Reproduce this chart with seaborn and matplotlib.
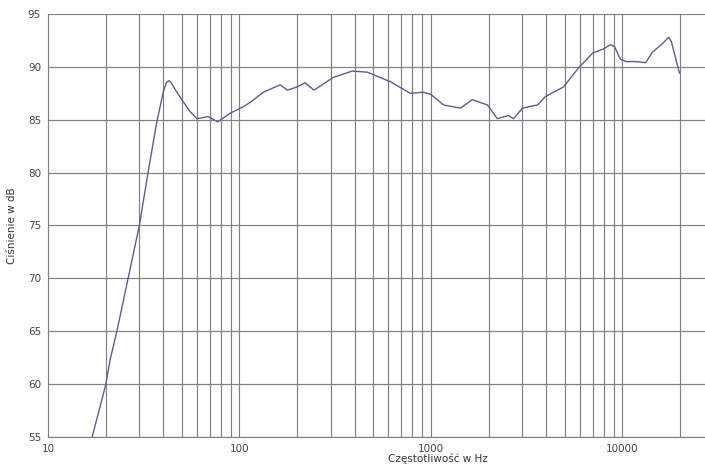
import numpy as np
import pandas as pd
import matplotlib
matplotlib.use("Agg")
import matplotlib.pyplot as plt
from matplotlib.ticker import FixedLocator, NullFormatter
import seaborn as sns

# Frequency response
freq = [17, 20, 21.1, 22.9, 26.2, 30, 33.3, 37, 40, 41.5, 42.8, 44, 46, 50, 55,
        60, 68.6, 77, 89, 104, 115, 133, 163, 178, 200, 220, 245, 309, 388,
        465, 614, 780, 912, 1000, 1162, 1426, 1645, 1972, 2223, 2540, 2700,
        3006, 3600, 3963, 4923, 5900, 6986, 7966, 8670, 9100, 9780, 10500,
        11720, 13220, 14370, 16200, 17430, 18000, 19870]
spl = [55.0, 59.9, 62.3, 65.0, 70.0, 75.0, 80.0, 84.8, 87.6, 88.5, 88.7, 88.5,
       87.9, 86.9, 85.8, 85.1, 85.3, 84.8, 85.6, 86.2, 86.7, 87.6, 88.3, 87.8,
       88.1, 88.5, 87.8, 89.0, 89.6, 89.5, 88.6, 87.5, 87.6, 87.4, 86.4, 86.1,
       86.9, 86.4, 85.1, 85.4, 85.1, 86.1, 86.4, 87.2, 88.1, 89.9, 91.3, 91.7,
       92.1, 91.9, 90.7, 90.5, 90.5, 90.4, 91.4, 92.2, 92.8, 92.4, 89.4]

x_major = [10, 100, 1000, 10000]
x_grid = [20, 30, 40, 50, 60, 70, 80, 90, 100, 200, 300, 400, 500, 600, 700,
          800, 900, 1000, 2000, 3000, 4000, 5000, 6000, 7000, 8000, 9000,
          10000, 20000]
y_ticks = [55, 60, 65, 70, 75, 80, 85, 90, 95]

df = pd.DataFrame({"freq": freq, "spl": spl})

sns.set_style("white")
plt.rcParams["font.family"] = ["DejaVu Sans"]

fig = plt.figure(figsize=(7.05, 4.76), dpi=100)
ax = fig.add_axes([48 / 705, 1 - 437 / 476, 1 - 48 / 705, (437 - 14) / 476])

grid_color = "#808080"
ax.set_xscale("log")
ax.set_xlim(10, 27000)
ax.set_ylim(55, 95)

for g in x_grid:
    ax.axvline(g, color=grid_color, lw=0.85, zorder=1)
for y in y_ticks:
    ax.axhline(y, color=grid_color, lw=0.85, zorder=1)

sns.lineplot(data=df, x="freq", y="spl", color="#5a5e96", lw=1.0,
             sort=False, ax=ax, zorder=3)

ax.xaxis.set_major_locator(FixedLocator(x_major))
ax.xaxis.set_minor_locator(FixedLocator([]))
ax.xaxis.set_minor_formatter(NullFormatter())
ax.set_xticklabels([str(v) for v in x_major])
ax.set_yticks(y_ticks)
ax.set_yticklabels([str(v) for v in y_ticks])
ax.tick_params(axis="both", labelsize=7.5, colors="#444444", length=3,
               width=0.8, color=grid_color, pad=2)

for side in ["top", "right"]:
    ax.spines[side].set_visible(False)
for side in ["left", "bottom"]:
    ax.spines[side].set_color(grid_color)
    ax.spines[side].set_linewidth(0.85)

ax.set_xlabel("")
ax.set_ylabel("Ciśnienie w dB", fontsize=7.5, color="#333333", labelpad=8)
fig.text(438 / 705, 1 - 459 / 476, "Częstotliwość w Hz", fontsize=7.5,
         color="#333333", ha="center", va="center")

fig.savefig("out.png", dpi=100)
